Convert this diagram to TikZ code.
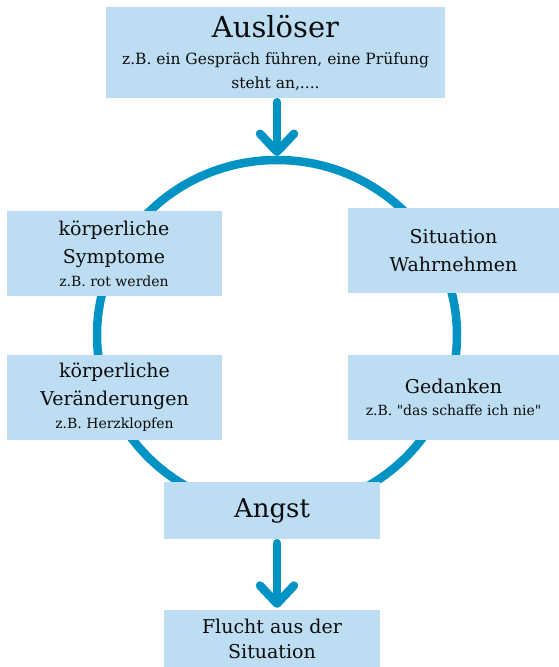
\documentclass[tikz,border=0pt]{standalone}
\usepackage{fontspec}
\setmainfont{DejaVu Serif}
\usetikzlibrary{arrows.meta}
\definecolor{boxblue}{HTML}{BDDDF3}
\definecolor{ringblue}{HTML}{0093C4}
\newcommand{\klein}{\fontsize{14}{20}\selectfont}

\begin{document}
\begin{tikzpicture}[
    x=1pt, y=-1pt,
    box/.style={fill=boxblue, inner sep=0pt, align=center, text=black!95,
                font=\fontsize{19}{28}\selectfont},
    ring/.style={draw=ringblue, line width=8.5pt},
    flow/.style={draw=ringblue, line width=8.5pt, line cap=round, shorten <=4pt,
                 -{Straight Barb[length=18pt, width=34pt, line cap=round, line join=round]}}
  ]
  \useasboundingbox (0,0) rectangle (559,667);

  % --- Kreislauf ---
  \draw[ring] (277,335) ellipse [x radius=180, y radius=175];
  \coordinate (ringtop) at (277,156);

  % --- Kaesten ---
  \node[box, minimum width=339pt, minimum height=91pt, font=\fontsize{15.5}{24}\selectfont]
    (trigger) at (275.5,52.5)
    {{\fontsize{29}{34}\selectfont Auslöser}\\[3pt]
     z.B. ein Gespräch führen, eine Prüfung\\ steht an,....};
  \node[box, minimum width=215pt, minimum height=85pt] (symptoms) at (114,253.5)
    {körperliche\\ Symptome\\[-5pt] \klein z.B. rot werden};
  \node[box, minimum width=215pt, minimum height=85pt] (changes) at (114.5,397.5)
    {körperliche\\ Veränderungen\\[-5pt] \klein z.B. Herzklopfen};
  \node[box, minimum width=211pt, minimum height=85pt] (perceive) at (453.5,250.5)
    {Situation\\ Wahrnehmen};
  \node[box, minimum width=211pt, minimum height=85pt] (thoughts) at (453.5,397.5)
    {Gedanken\\[-6pt] \klein z.B. \textquotedbl das schaffe ich nie\textquotedbl};
  \node[box, minimum width=216pt, minimum height=57pt, font=\fontsize{26}{30}\selectfont]
    (anxiety) at (272,510.5) {Angst};
  \node[box, minimum width=216pt, minimum height=57pt, font=\fontsize{19}{25}\selectfont]
    (escape) at (272,638.5) {Flucht aus der\\ Situation};

  % --- Pfeile ---
  \draw[flow] (trigger.south -| ringtop) -- (ringtop);
  \draw[flow] (anxiety.south -| ringtop) -- ([yshift=2pt]escape.north -| ringtop);

\end{tikzpicture}
\end{document}
